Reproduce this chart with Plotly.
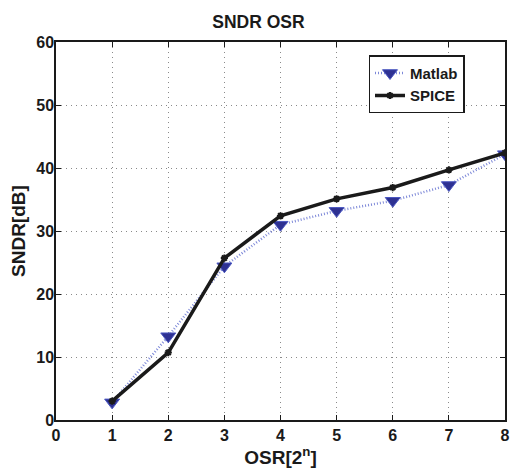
import plotly.graph_objects as go

osr = [1, 2, 3, 4, 5, 6, 7, 8]
matlab_sndr = [2.8, 13.3, 24.4, 31.0, 33.2, 34.8, 37.3, 42.2]
spice_sndr = [3.0, 10.7, 25.7, 32.4, 35.1, 36.9, 39.7, 42.4]

x_ticks = [0, 1, 2, 3, 4, 5, 6, 7, 8]
y_ticks = [0, 10, 20, 30, 40, 50, 60]

FONT = "Liberation Sans, Arial, sans-serif"

fig = go.Figure()
fig.add_trace(go.Scatter(
    x=osr, y=matlab_sndr, name="Matlab", mode="lines+markers",
    line=dict(color="#7d88d8", width=2.5, dash="1px,2px"),
    marker=dict(symbol="triangle-down", size=13, color="#2e3192",
                line=dict(color="#4a56c0", width=1)),
))
fig.add_trace(go.Scatter(
    x=osr, y=spice_sndr, name="SPICE", mode="lines+markers",
    line=dict(color="#1a1a1a", width=3.5),
    marker=dict(symbol="asterisk", size=6, color="#1a1a1a",
                line=dict(color="#1a1a1a", width=2)),
))

axis_common = dict(
    showline=True, linecolor="#1a1a1a", linewidth=1.5, mirror="ticks",
    ticks="inside", ticklen=5, tickcolor="#1a1a1a", tickwidth=1,
    showgrid=True, gridcolor="#8a8a8a", griddash="1px,4px", gridwidth=1,
    zeroline=False,
    tickfont=dict(family=FONT, size=16, color="#1a1a1a", weight="bold"),
)

fig.update_layout(
    width=517, height=469,
    paper_bgcolor="white", plot_bgcolor="white",
    margin=dict(l=56, r=7, t=42, b=49),
    title=dict(text="<b>SNDR OSR</b>", x=0.5, xanchor="center", y=0.953, yanchor="middle",
               font=dict(family=FONT, size=17.5, color="#1a1a1a")),
    xaxis=dict(range=[0, 8], tickvals=x_ticks,
               title=dict(text="<b>OSR[2<sup>n</sup>]</b>", standoff=2,
                          font=dict(family=FONT, size=19, color="#1a1a1a")),
               **axis_common),
    yaxis=dict(range=[0, 60], tickvals=y_ticks, ticklabelstandoff=-3,
               title=dict(text="<b>SNDR[dB]</b>", standoff=6,
                          font=dict(family=FONT, size=19, color="#1a1a1a")),
               **axis_common),
    legend=dict(x=0.696, y=0.965, xanchor="left", yanchor="top",
                bgcolor="white", bordercolor="#1a1a1a", borderwidth=1.5,
                font=dict(family=FONT, size=15, color="#1a1a1a", weight="bold"),
                tracegroupgap=0, itemwidth=30),
    showlegend=True,
)

fig.write_html("out.html", config={"displayModeBar": False},
               post_script="document.body.style.margin='0';document.body.style.overflow='hidden';")
